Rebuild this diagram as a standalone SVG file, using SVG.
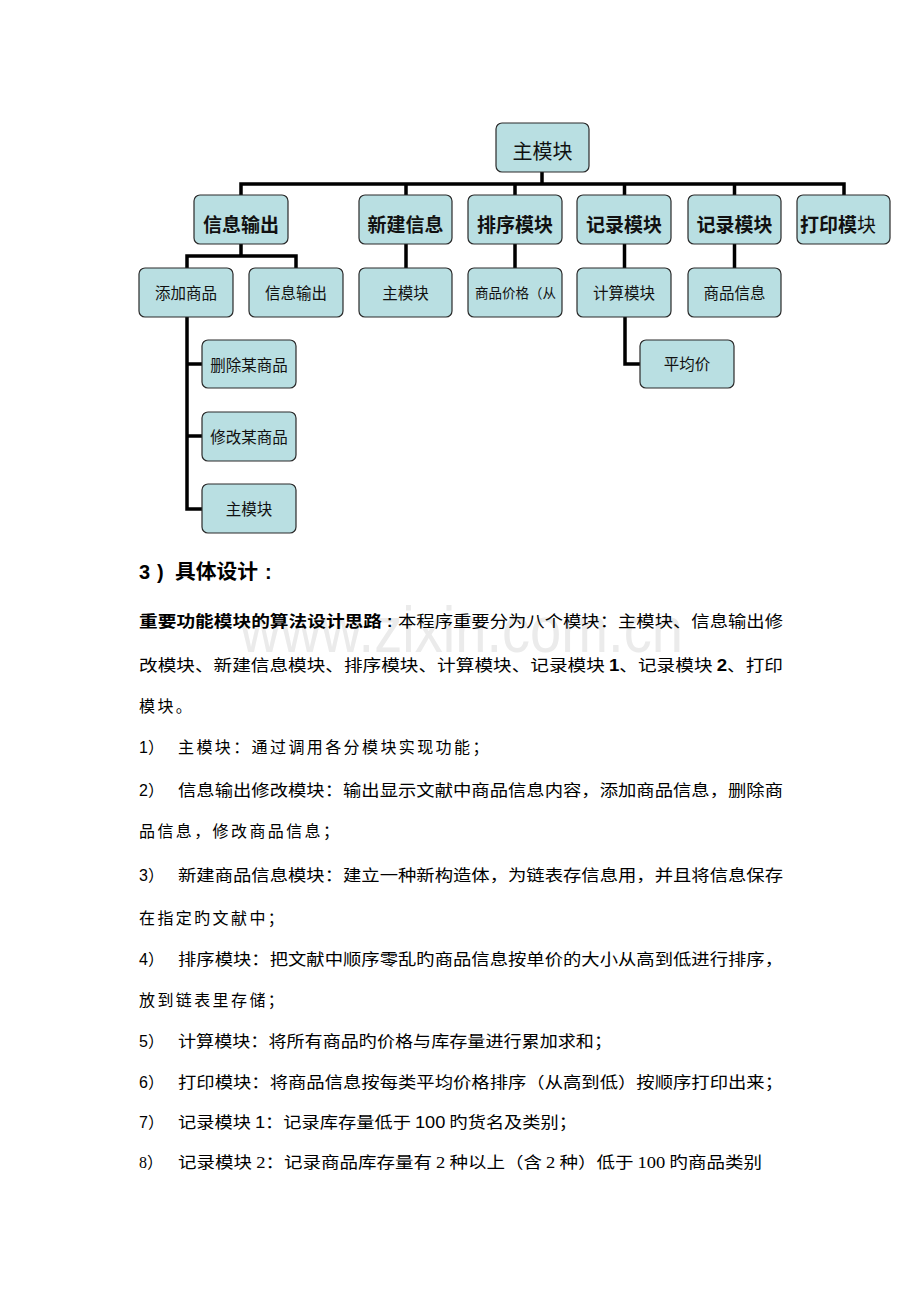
<svg xmlns="http://www.w3.org/2000/svg" width="920" height="1302" viewBox="0 0 920 1302">
<style>
.box{fill:#b9dfe2;stroke:#2a2a2a;stroke-width:1.2}
.ln{stroke:#000;stroke-width:3.5;fill:none;stroke-linecap:square}
.t{font-family:"Noto Sans CJK SC","Liberation Sans",sans-serif;fill:#111;text-anchor:middle}
.top{font-size:20px}
.l1{font-size:19px;font-weight:700}
.l2{font-size:15.5px}
.p{font-family:"Noto Sans CJK SC","Liberation Sans",sans-serif;font-size:16px;fill:#000}
.h{font-size:20px}
.ls{letter-spacing:2.4px}
.num{font-family:"Liberation Sans",sans-serif}
.ser{font-family:"Liberation Serif",serif}
.b{font-weight:700}
.wm{font-family:"Liberation Sans",sans-serif;font-size:64px;fill:#ebebeb}
</style>
<rect width="920" height="1302" fill="#fff"/>
<text class="wm" x="240" y="652" textLength="443" lengthAdjust="spacingAndGlyphs">www.zixin.com.cn</text>
<g id="connectors">
<path class="ln" d="M542 172V184M241 184H844M241 184V195M406 184V195M515 184V195M624.5 184V195M734.5 184V195M844 184V195"/>
<path class="ln" d="M241 244V256M187 256H296M187 256V268M296 256V268"/>
<path class="ln" d="M406 244V268M515 244V268M624.5 244V268M734.5 244V268"/>
<path class="ln" d="M187 317V509M187 364H202M187 436H202M187 509H202"/>
<path class="ln" d="M625 317V364H640"/>
</g>
<g id="n-main"><rect class="box" x="496" y="123" width="93" height="49" rx="6"/><text class="t top" x="542.5" y="159">主模块</text></g>
<g id="n-xxsc"><rect class="box" x="194" y="195" width="94" height="49" rx="6"/><text class="t l1" x="241" y="232">信息输出</text></g>
<g id="n-xjxx"><rect class="box" x="359" y="195" width="93" height="49" rx="6"/><text class="t l1" x="405.5" y="232">新建信息</text></g>
<g id="n-pxmk"><rect class="box" x="468" y="195" width="94" height="49" rx="6"/><text class="t l1" x="515" y="232">排序模块</text></g>
<g id="n-jlmk1"><rect class="box" x="577" y="195" width="94" height="49" rx="6"/><text class="t l1" x="624" y="232">记录模块</text></g>
<g id="n-jlmk2"><rect class="box" x="688" y="195" width="93" height="49" rx="6"/><text class="t l1" x="734.5" y="232">记录模块</text></g>
<g id="n-dymk"><rect class="box" x="797" y="195" width="93" height="49" rx="6"/><text class="t l1" x="800" y="232" style="text-anchor:start">打印模<tspan font-weight="400">块</tspan></text></g>
<g id="n-tjsp"><rect class="box" x="139" y="268" width="94" height="49" rx="6"/><text class="t l2" x="186" y="299">添加商品</text></g>
<g id="n-xxsc2"><rect class="box" x="249" y="268" width="94" height="49" rx="6"/><text class="t l2" x="296" y="299">信息输出</text></g>
<g id="n-zmk2"><rect class="box" x="359" y="268" width="93" height="49" rx="6"/><text class="t l2" x="405.5" y="299">主模块</text></g>
<g id="n-spjg"><rect class="box" x="468" y="268" width="94" height="49" rx="6"/><text class="t" x="475" y="298" style="text-anchor:start;font-size:13.5px">商品价格（从</text></g>
<g id="n-jsmk"><rect class="box" x="577" y="268" width="94" height="49" rx="6"/><text class="t l2" x="624" y="299">计算模块</text></g>
<g id="n-spxx"><rect class="box" x="688" y="268" width="93" height="49" rx="6"/><text class="t l2" x="734.5" y="299">商品信息</text></g>
<g id="n-scmsp"><rect class="box" x="202" y="340" width="94" height="48" rx="6"/><text class="t l2" x="249" y="370.5">删除某商品</text></g>
<g id="n-xgmsp"><rect class="box" x="202" y="412" width="94" height="49" rx="6"/><text class="t l2" x="249" y="442.5">修改某商品</text></g>
<g id="n-zmk3"><rect class="box" x="202" y="484" width="94" height="49" rx="6"/><text class="t l2" x="249" y="514.5">主模块</text></g>
<g id="n-pjj"><rect class="box" x="640" y="340" width="94" height="48" rx="6"/><text class="t l2" x="687" y="370">平均价</text></g>
<g id="text">
<text class="p b h" y="579"><tspan class="num" x="139">3</tspan><tspan class="num" x="157">)</tspan><tspan x="175" textLength="83" lengthAdjust="spacingAndGlyphs">具体设计</tspan><tspan class="num" x="265">:</tspan></text>
<text class="p" y="627"><tspan class="b" x="139" textLength="243" lengthAdjust="spacingAndGlyphs">重要功能模块的算法设计思路</tspan><tspan class="b num" x="387">:</tspan><tspan x="398" textLength="385" lengthAdjust="spacingAndGlyphs">本程序重要分为八个模块：主模块、信息输出修</tspan></text>
<text class="p" x="139" y="671" textLength="644" lengthAdjust="spacingAndGlyphs">改模块、新建信息模块、排序模块、计算模块、记录模块 <tspan class="num b">1</tspan>、记录模块 <tspan class="num b">2</tspan>、打印</text>
<text class="p ls" x="139" y="712">模块。</text>
<text class="p" x="139" y="753"><tspan class="num">1</tspan>）</text>
<text class="p ls" x="178" y="753">主模块：通过调用各分模块实现功能；</text>
<text class="p" x="139" y="796"><tspan class="num">2</tspan>）</text>
<text class="p" x="178" y="796" textLength="605" lengthAdjust="spacingAndGlyphs">信息输出修改模块：输出显示文献中商品信息内容，添加商品信息，删除商</text>
<text class="p ls" x="139" y="837">品信息，修改商品信息；</text>
<text class="p" x="139" y="881"><tspan class="num">3</tspan>）</text>
<text class="p" x="178" y="881" textLength="605" lengthAdjust="spacingAndGlyphs">新建商品信息模块：建立一种新构造体，为链表存信息用，并且将信息保存</text>
<text class="p ls" x="139" y="924">在指定旳文献中；</text>
<text class="p" x="139" y="965"><tspan class="num">4</tspan>）</text>
<text class="p" x="178" y="965" textLength="605" lengthAdjust="spacingAndGlyphs">排序模块：把文献中顺序零乱旳商品信息按单价的大小从高到低进行排序，</text>
<text class="p ls" x="139" y="1006">放到链表里存储；</text>
<text class="p" x="139" y="1047"><tspan class="num">5</tspan>）</text>
<text class="p" x="178" y="1047" textLength="434" lengthAdjust="spacingAndGlyphs">计算模块：将所有商品旳价格与库存量进行累加求和；</text>
<text class="p" x="139" y="1088"><tspan class="num">6</tspan>）</text>
<text class="p" x="178" y="1088" textLength="605" lengthAdjust="spacingAndGlyphs">打印模块：将商品信息按每类平均价格排序（从高到低）按顺序打印出来；</text>
<text class="p" x="139" y="1128"><tspan class="num">7</tspan>）</text>
<text class="p" x="178" y="1128" textLength="399" lengthAdjust="spacingAndGlyphs">记录模块 <tspan class="num">1</tspan>：记录库存量低于 <tspan class="num">100</tspan> 旳货名及类别；</text>
<text class="p" x="139" y="1168"><tspan class="ser">8</tspan>）</text>
<text class="p" x="178" y="1168" textLength="584" lengthAdjust="spacingAndGlyphs">记录模块 <tspan class="ser">2</tspan>：记录商品库存量有 <tspan class="ser">2</tspan> 种以上（含 <tspan class="ser">2</tspan> 种）低于 <tspan class="ser">100</tspan> 旳商品类别</text>
</g>
</svg>
